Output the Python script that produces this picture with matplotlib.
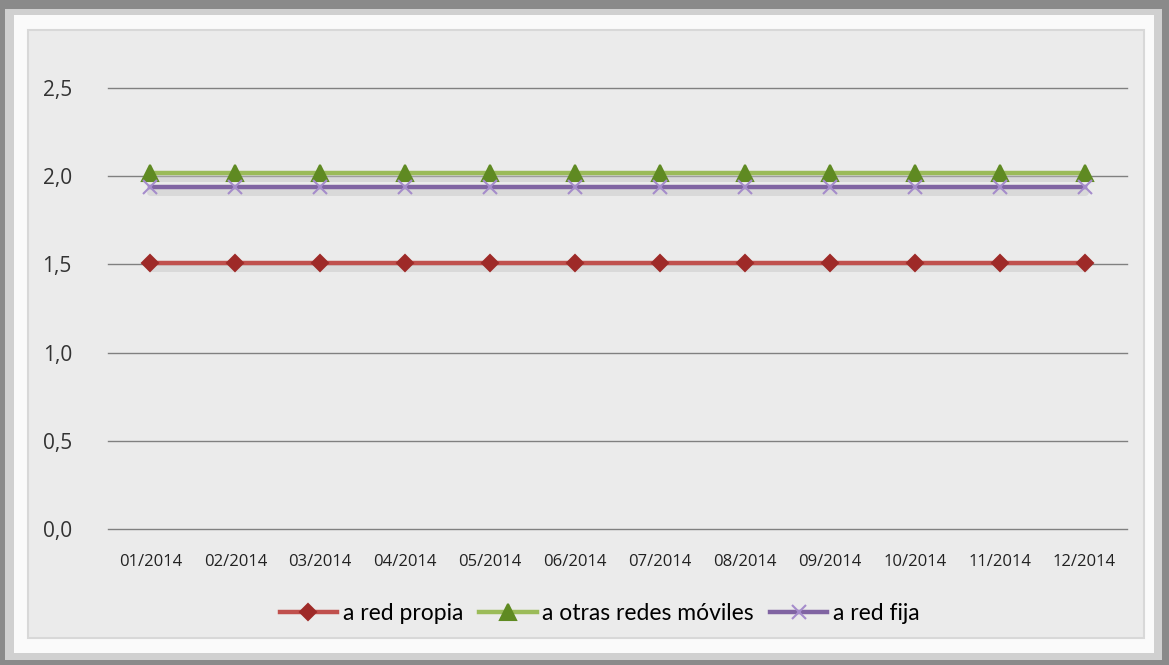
import matplotlib.pyplot as plt
from matplotlib.patches import Rectangle
import numpy as np

months = ['01/2014', '02/2014', '03/2014', '04/2014', '05/2014', '06/2014',
          '07/2014', '08/2014', '09/2014', '10/2014', '11/2014', '12/2014']
red_propia = [1.51] * 12
otras_moviles = [2.02] * 12
red_fija = [1.94] * 12
yticks = [0.0, 0.5, 1.0, 1.5, 2.0, 2.5]

fig = plt.figure(figsize=(11.69, 6.65), dpi=100)
fig.patch.set_facecolor('#8a8a8a')

# bevelled frame
fig.patches.append(Rectangle((0.004, 0.008), 0.99, 0.978, transform=fig.transFigure,
                             facecolor='#d0d0d0', edgecolor='none', zorder=-10))
fig.patches.append(Rectangle((0.012, 0.018), 0.975, 0.96, transform=fig.transFigure,
                             facecolor='#fafafa', edgecolor='none', zorder=-9))
fig.patches.append(Rectangle((0.024, 0.040), 0.955, 0.915, transform=fig.transFigure,
                             facecolor='#ebebeb', edgecolor='#d8d8d8', lw=1.5, zorder=-8))

ax = fig.add_axes([0.0924, 0.2045, 0.8717, 0.663])
ax.set_facecolor('none')
x = np.arange(len(months))

styles = [
    (red_propia, 'a red propia', '#c0504d', 'D', '#9e2a28', 8),
    (otras_moviles, 'a otras redes móviles', '#9bbb59', '^', '#5f8a22', 11),
    (red_fija, 'a red fija', '#8064a2', 'x', '#a58ccb', 10),
]
handles = []
for vals, label, col, mk, mcol, ms in styles:
    # soft shadow
    ax.plot(x, np.array(vals) - 0.03, color='#c4c4c4', lw=5, alpha=0.45, zorder=2,
            solid_capstyle='round')
    h, = ax.plot(x, vals, color=col, lw=3.2, marker=mk, markersize=ms,
                 markerfacecolor=mcol, markeredgecolor=mcol, mew=1.5, label=label, zorder=3)
    handles.append(h)

ax.set_xlim(-0.5, len(months) - 0.5)
ax.set_ylim(0, 2.5)
ax.set_yticks(yticks)
ax.set_yticklabels([f'{v:.1f}'.replace('.', ',') for v in yticks],
                   fontsize=15, family='Open Sans', color='#333333')
ax.set_xticks(x)
ax.set_xticklabels(months, fontsize=12, family='Open Sans', color='#222222')
ax.tick_params(length=0, pad=26, axis='y')
ax.tick_params(length=0, pad=18, axis='x')
ax.grid(axis='y', color='#808080', lw=1)
for gl in ax.get_ygridlines():
    gl.set_clip_on(False)
ax.set_axisbelow(True)
for s in ax.spines.values():
    s.set_visible(False)

fig.legend(handles=handles, loc='center', bbox_to_anchor=(0.513, 0.077), ncol=3,
           frameon=False, handlelength=2.5, handletextpad=0.25, columnspacing=0.7,
           prop={'family': 'Lato', 'size': 16.5})

fig.savefig('out.png', dpi=100, facecolor=fig.get_facecolor())
